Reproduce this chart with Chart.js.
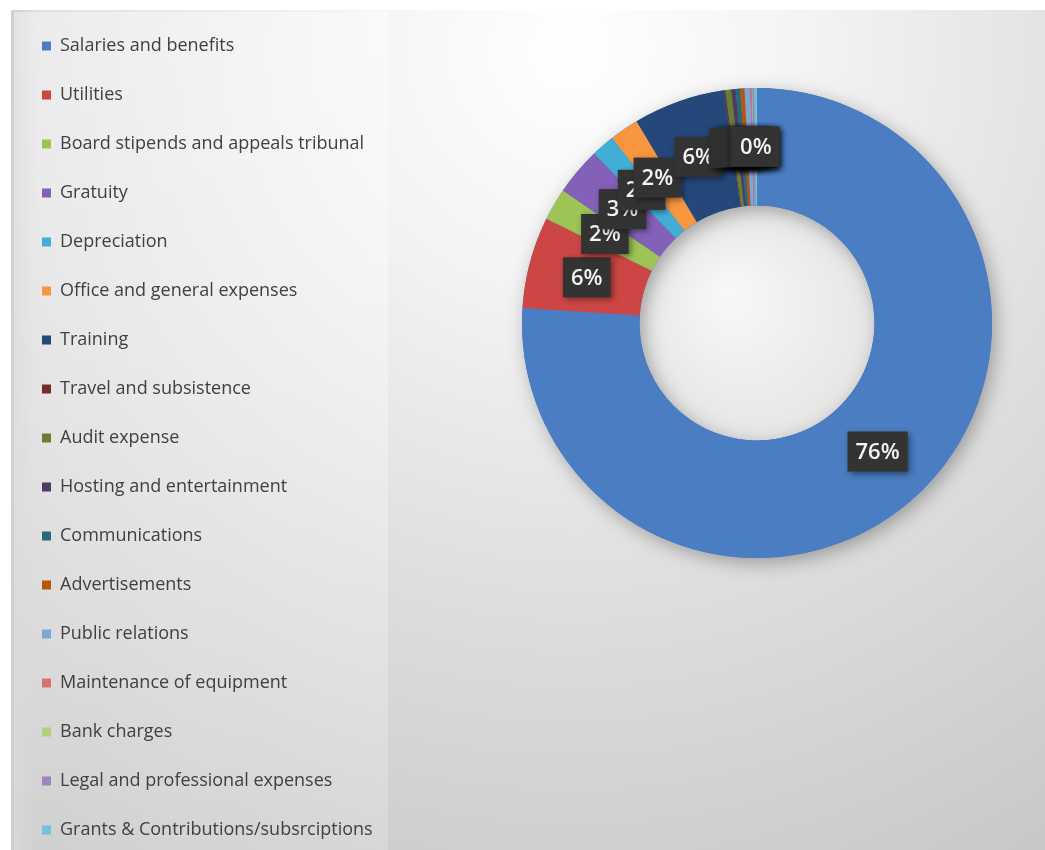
<!DOCTYPE html>
<html>
<head>
<meta charset="utf-8">
<title>Expenses</title>
<script src="https://cdn.jsdelivr.net/npm/chart.js@4.4.1/dist/chart.umd.min.js"></script>
<style>
  html, body { margin: 0; padding: 0; overflow: hidden; background: #ffffff; }
  body { width: 1045px; height: 850px; position: relative; }
  #frame { position: absolute; left: 11px; top: 10px; right: 0; bottom: 0;
    background: radial-gradient(circle farthest-corner at 560px 40px, #ffffff 0%, #f3f3f3 25%, #dcdcdc 60%, #c5c5c5 100%); }
  #edge { position: absolute; left: 11px; top: 10px; bottom: 0; width: 26px;
    background: linear-gradient(to right, #d0d0d0, rgba(208,208,208,0)); }
  #panel { position: absolute; left: 14px; top: 12px; width: 374px; bottom: 0;
    background: linear-gradient(to bottom, rgba(255,255,255,0.4), rgba(255,255,255,0.18)); }
  #wrap { position: absolute; left: 11px; top: 6px; width: 1034px; height: 870px; }
</style>
</head>
<body>
<div id="frame"></div>
<div id="edge"></div>
<div id="panel"></div>
<div id="wrap"><canvas id="myChart"></canvas></div>
<script>
// Categories and their share of the expenses (percent)
const categories = [
  'Salaries and benefits',
  'Utilities',
  'Board stipends and appeals tribunal',
  'Gratuity',
  'Depreciation',
  'Office and general expenses',
  'Training',
  'Travel and subsistence',
  'Audit expense',
  'Hosting and entertainment',
  'Communications',
  'Advertisements',
  'Public relations',
  'Maintenance of equipment',
  'Bank charges',
  'Legal and professional expenses',
  'Grants & Contributions/subsrciptions'
];
const expenseValues = [75.9, 6.3, 2.2, 3.3, 1.6, 2.0, 6.3, 0.1, 0.4, 0.3, 0.3, 0.3, 0.4, 0.1, 0.05, 0.1, 0.2];
const sliceColors = [
  '#4a7dc2', '#cc4744', '#9dc455', '#8460b8', '#41afd4', '#f7963f',
  '#25487a', '#772c2a', '#6b7d33', '#4d3b62', '#276a7c', '#b65708',
  '#7da6d8', '#d8726f', '#b2cf7d', '#9c86bb', '#72c2d8'
];

// Put the ring where it sits in the picture (canvas coordinates)
const placeRing = {
  id: 'placeRing',
  afterLayout(chart) {
    const a = chart.chartArea;
    a.left = 511; a.right = 981; a.top = 82; a.bottom = 552;
    a.width = 470; a.height = 470;
  }
};

// Light hole and soft shadow under the ring
const ringShadow = {
  id: 'ringShadow',
  beforeDatasetsDraw(chart) {
    const arc = chart.getDatasetMeta(0).data[0];
    if (!arc) return;
    const {x, y, innerRadius, outerRadius} = arc.getProps(['x', 'y', 'innerRadius', 'outerRadius'], true);
    const ctx = chart.ctx;
    ctx.save();
    const g = ctx.createRadialGradient(x - 30, y - 30, 10, x, y, innerRadius);
    g.addColorStop(0, '#f7f7f7');
    g.addColorStop(1, '#e6e6e6');
    ctx.fillStyle = g;
    ctx.beginPath();
    ctx.arc(x, y, innerRadius, 0, Math.PI * 2);
    ctx.fill();
    ctx.shadowColor = 'rgba(0,0,0,0.3)';
    ctx.shadowBlur = 18;
    ctx.shadowOffsetX = 4;
    ctx.shadowOffsetY = 5;
    ctx.fillStyle = '#4a7dc2';
    ctx.beginPath();
    ctx.arc(x, y, outerRadius, 0, Math.PI * 2);
    ctx.arc(x, y, innerRadius, Math.PI * 2, 0, true);
    ctx.fill();
    ctx.restore();
  }
};

// Dark percentage boxes on every slice
const pctLabels = {
  id: 'pctLabels',
  afterDatasetsDraw(chart) {
    const ctx = chart.ctx;
    const meta = chart.getDatasetMeta(0);
    const total = expenseValues.reduce((a, b) => a + b, 0);
    ctx.save();
    ctx.font = '600 22px "Open Sans"';
    ctx.textAlign = 'center';
    ctx.textBaseline = 'middle';
    meta.data.forEach((arc, i) => {
      const p = arc.tooltipPosition();
      const text = Math.round(expenseValues[i] / total * 100) + '%';
      const w = ctx.measureText(text).width + 16;
      const h = 40;
      ctx.shadowColor = 'rgba(0,0,0,0.45)';
      ctx.shadowBlur = 6;
      ctx.shadowOffsetX = 2;
      ctx.shadowOffsetY = 2;
      ctx.fillStyle = '#333333';
      ctx.fillRect(p.x - w / 2, p.y - h / 2, w, h);
      ctx.shadowColor = 'transparent';
      ctx.fillStyle = '#f4f4f4';
      ctx.fillText(text, p.x, p.y + 1);
    });
    ctx.restore();
  }
};

const ctx = document.getElementById('myChart').getContext('2d');
const myChart = new Chart(ctx, {
  type: 'doughnut',
  data: {
    labels: categories,
    datasets: [{
      data: expenseValues,
      backgroundColor: sliceColors,
      borderWidth: 0
    }]
  },
  options: {
    responsive: true,
    maintainAspectRatio: false,
    animation: false,
    cutout: '50%',
    layout: { padding: 0 },
    plugins: {
      tooltip: { enabled: false },
      legend: {
        position: 'left',
        align: 'start',
        labels: {
          boxWidth: 9,
          boxHeight: 9,
          padding: 31,
          color: '#404040',
          font: { family: '"Open Sans"', size: 18 }
        }
      }
    }
  },
  plugins: [placeRing, ringShadow, pctLabels]
});
</script>
</body>
</html>
